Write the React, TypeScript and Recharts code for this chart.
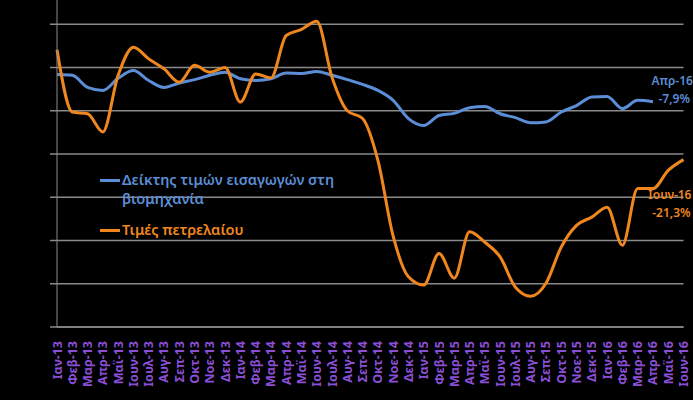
import React from 'react';
import { CartesianGrid, Legend, Line, LineChart, XAxis, YAxis } from 'recharts';

const months = ['Ιαν', 'Φεβ', 'Μαρ', 'Απρ', 'Μαϊ', 'Ιουν', 'Ιουλ', 'Αυγ', 'Σεπ', 'Οκτ', 'Νοε', 'Δεκ'];
const years = ['13', '14', '15', '16'];
const categories = years
  .flatMap((yr) => months.map((m) => `${m}-${yr}`))
  .slice(0, 42);

// Δείκτης τιμών εισαγωγών στη βιομηχανία (% ετήσια μεταβολή)
const importPrices: (number | null)[] = [
  -1.6, -1.8, -4.6, -5.3, -2.5, -0.7, -3.0, -4.6, -3.6, -2.8, -1.8, -1.1,
  -2.6, -3.0, -2.6, -1.3, -1.4, -0.9, -1.8, -2.8, -3.9, -5.3, -7.6, -11.8,
  -13.4, -11.1, -10.6, -9.3, -9.0, -10.7, -11.6, -12.8, -12.6, -10.3, -8.8, -6.8,
  -6.7, -9.5, -7.6, -7.9, null, null,
];

// Τιμές πετρελαίου (% ετήσια μεταβολή)
const oilPrices: number[] = [
  4.1, -10.3, -10.7, -14.9, -1.8, 4.7, 2.0, -0.3, -3.4, 0.5, -1.1, 0.0,
  -8.0, -1.5, -2.4, 7.4, 8.8, 10.7, -2.3, -10.0, -11.8, -21.5, -39.0, -48.4,
  -50.3, -43.0, -48.7, -38.0, -40.4, -43.8, -50.8, -52.9, -49.9, -41.5, -36.5, -34.6,
  -32.3, -41.1, -28.0, -28.0, -23.8, -21.3,
];

const yTicks = [-60, -50, -40, -30, -20, -10, 0, 10, 20];

const data = categories.map((month, i) => ({
  month,
  importPrices: importPrices[i],
  oilPrices: oilPrices[i],
}));

const BLUE = '#5B8ED6';
const ORANGE = '#F0871E';
const PURPLE = '#8A4FD6';
const GRID = '#8a8a8a';
const FONT = '"Noto Sans", "Open Sans", sans-serif';

const fmt = (v: number) => `${v.toFixed(1).replace('.', ',')}%`;

const MonthTick = ({ x, y, payload }: any) => (
  <text
    x={x}
    y={y}
    transform={`rotate(-90, ${x}, ${y})`}
    dx={-6}
    textAnchor="end"
    dominantBaseline="central"
    fill={PURPLE}
    fontSize={12.5}
    fontWeight={700}
    fontFamily={FONT}
  >
    {payload.value}
  </text>
);

const endLabel = (idx: number, color: string, below: boolean) => (props: any) => {
  const { x, y, index, value } = props;
  if (index !== idx) return null;
  const name = categories[idx];
  const y1 = below ? y + 35 : y - 21;
  return (
    <g fontFamily={FONT} fontSize={12} fontWeight={600} fill={color}>
      <text x={x + (below ? 8 : 40)} y={y1} textAnchor="end" dominantBaseline="central">
        {name}
      </text>
      <text x={x + (below ? 7 : 37)} y={y1 + 18} textAnchor="end" dominantBaseline="central">
        {fmt(value)}
      </text>
    </g>
  );
};

const LegendBox = () => (
  <div style={{ fontFamily: FONT, fontSize: 14.5, fontWeight: 600, lineHeight: '19px' }}>
    <div style={{ display: 'flex', color: BLUE }}>
      <span style={{ width: 20, height: 3, background: BLUE, marginTop: 9, marginRight: 2, flex: 'none' }} />
      <span>
        Δείκτης τιμών εισαγωγών στη
        <br />
        βιομηχανία
      </span>
    </div>
    <div style={{ display: 'flex', color: ORANGE, marginTop: 12 }}>
      <span style={{ width: 20, height: 3, background: ORANGE, marginTop: 9, marginRight: 2, flex: 'none' }} />
      <span>Τιμές πετρελαίου</span>
    </div>
  </div>
);

export default function App() {
  return (
    <div style={{ position: 'absolute', left: 0, top: -19, width: 693, height: 419, background: '#000' }}>
      <LineChart
        width={693}
        height={419}
        data={data}
        margin={{ top: 0, right: 9.5, left: 0, bottom: 0 }}
      >
        <CartesianGrid horizontal vertical={false} stroke={GRID} strokeWidth={1.5} />
        <XAxis
          dataKey="month"
          interval={0}
          height={73}
          tick={<MonthTick />}
          tickLine={false}
          axisLine={{ stroke: GRID, strokeWidth: 1.5 }}
        />
        <YAxis
          width={57}
          domain={[-60, 20]}
          ticks={yTicks}
          interval={0}
          tick={() => <g />}
          tickSize={7}
          tickLine={{ stroke: GRID, strokeWidth: 1.5 }}
          axisLine={{ stroke: GRID, strokeWidth: 1 }}
        />
        <Legend
          layout="horizontal"
          verticalAlign="middle"
          align="center"
          content={<LegendBox />}
          wrapperStyle={{ left: 100, top: 189, width: 260 }}
        />
        <Line
          dataKey="importPrices"
          type="monotone"
          stroke={BLUE}
          strokeWidth={3}
          dot={false}
          isAnimationActive={false}
          label={endLabel(39, BLUE, false)}
        />
        <Line
          dataKey="oilPrices"
          type="monotone"
          stroke={ORANGE}
          strokeWidth={3}
          dot={false}
          isAnimationActive={false}
          label={endLabel(41, ORANGE, true)}
        />
      </LineChart>
    </div>
  );
}
